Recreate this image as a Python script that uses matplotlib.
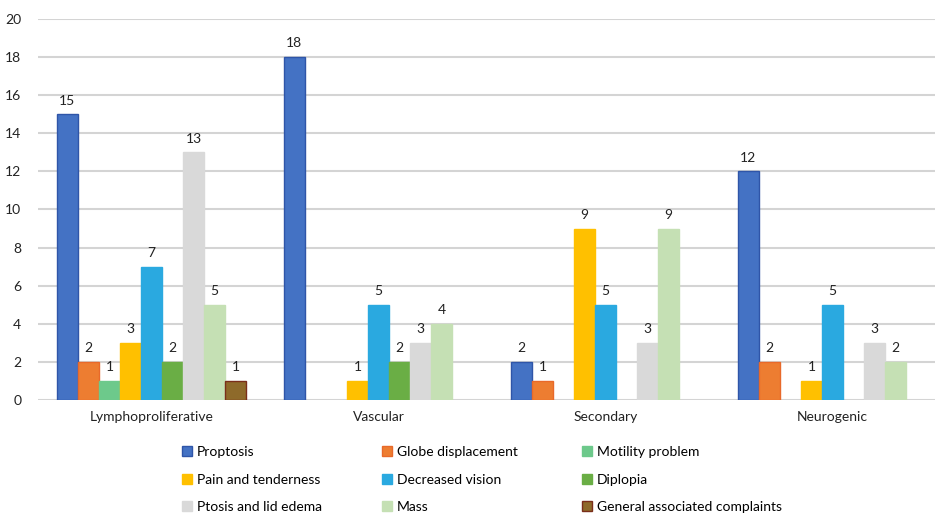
import numpy as np
import matplotlib
matplotlib.use("Agg")
import matplotlib.pyplot as plt
from matplotlib.patches import Patch

plt.rcParams['font.family'] = ['Lato', 'DejaVu Sans']

categories = ["Lymphoproliferative", "Vascular", "Secondary", "Neurogenic"]
series_names = [
    "Proptosis", "Globe displacement", "Motility problem",
    "Pain and tenderness", "Decreased vision", "Diplopia",
    "Ptosis and lid edema", "Mass", "General associated complaints",
]
proptosis = [15, 18, 2, 12]
globe_displacement = [2, 0, 1, 2]
motility_problem = [1, 0, 0, 0]
pain_and_tenderness = [3, 1, 9, 1]
decreased_vision = [7, 5, 5, 5]
diplopia = [2, 2, 0, 0]
ptosis_lid_edema = [13, 3, 3, 3]
mass = [5, 4, 9, 2]
general_complaints = [1, 0, 0, 0]

series_values = [
    proptosis, globe_displacement, motility_problem,
    pain_and_tenderness, decreased_vision, diplopia,
    ptosis_lid_edema, mass, general_complaints,
]
face_colors = ["#4472C4", "#ED7D31", "#6DC98B", "#FFC000", "#2AA9E0",
               "#6AAE45", "#D9D9D9", "#C5E0B4", "#8E6A2A"]
edge_colors = ["#2F55A8", "#E8692A", "#6DC98B", "#FFC000", "#2AA9E0",
               "#6AAE45", "#D9D9D9", "#C5E0B4", "#7A2E1A"]

W, H = 935, 513
fig = plt.figure(figsize=(W / 100, H / 100), dpi=100)
left_px, right_px = 38, 946
ax = fig.add_axes([left_px / W, (H - 400) / H, (right_px - left_px) / W, (400 - 19) / H])

x = np.arange(len(categories))
n = len(series_values)
bar_w = 0.0926
offsets = (np.arange(n) - (n - 1) / 2) * bar_w

for i, vals in enumerate(series_values):
    vals = np.array(vals, dtype=float)
    widths = [1.0 if v > 0 else 0.0 for v in vals]
    bars = ax.bar(x + offsets[i], vals, width=bar_w, color=face_colors[i],
                  edgecolor=edge_colors[i], linewidth=widths, zorder=3)
    for b, v in zip(bars, vals):
        if v > 0:
            ax.annotate(f"{int(v)}", (b.get_x() + b.get_width() / 2, v),
                        xytext=(0, 5.5), textcoords="offset points",
                        ha="center", va="bottom", fontsize=10, color="#222222")

ax.set_xlim(-0.5, 3.5)
ax.set_ylim(0, 20)
ax.set_yticks(np.arange(0, 21, 2))
ax.set_xticks(x)
ax.set_xticklabels(categories)
ax.tick_params(axis="both", length=0, labelsize=10, colors="#222222")
ax.tick_params(axis="x", pad=8)
ax.tick_params(axis="y", pad=12)
ax.grid(axis="y", color="#D4D4D4", linewidth=1.5, zorder=0)
ax.set_axisbelow(True)
for s in ax.spines.values():
    s.set_visible(False)

# legend: three columns placed at fixed x positions
col_x = [182, 382, 582]
for c in range(3):
    idx = [c, c + 3, c + 6]
    handles = [Patch(facecolor=face_colors[k], edgecolor=edge_colors[k]) for k in idx]
    labels = [series_names[k] for k in idx]
    fig.legend(handles, labels, loc="upper left",
               bbox_to_anchor=(col_x[c] / W, 1 - 446 / H),
               frameon=False, fontsize=10, handlelength=0.7, handleheight=0.7,
               handletextpad=0.35, labelspacing=1.12, borderpad=0, borderaxespad=0)

fig.savefig("out.png", dpi=100)
